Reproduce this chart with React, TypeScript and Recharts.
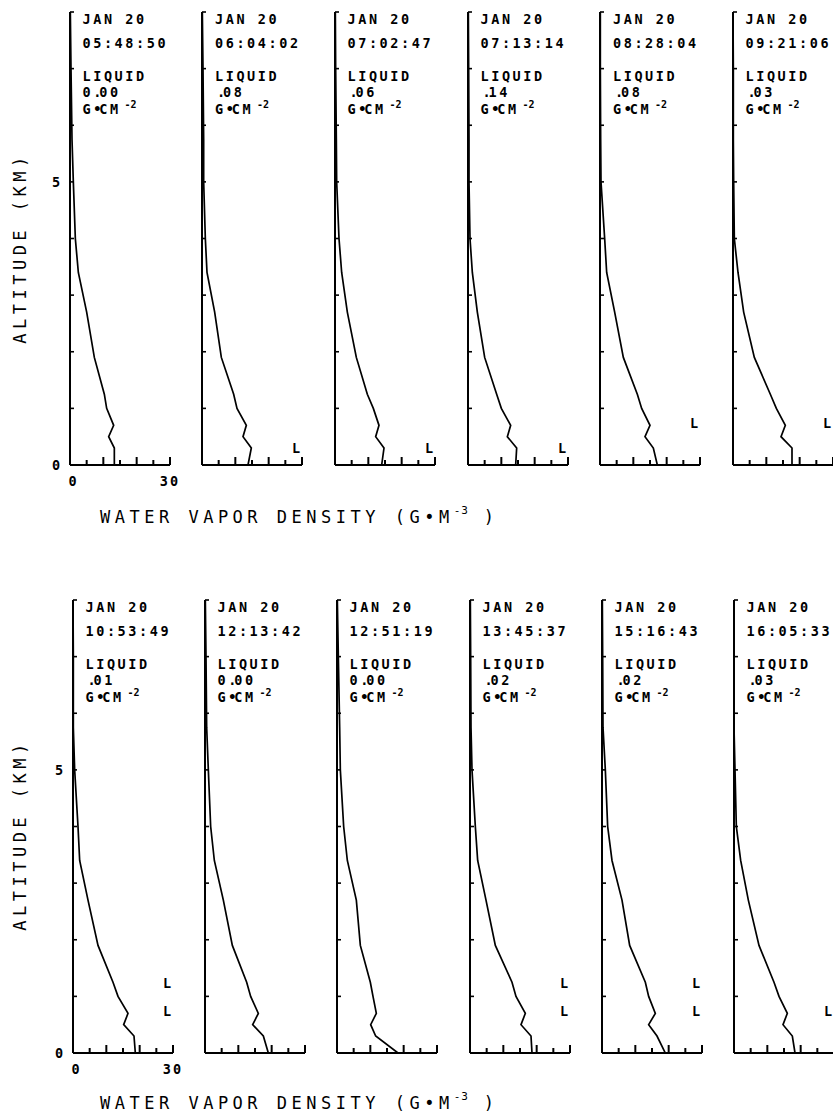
import React from "react";
import { ComposedChart, Line, Scatter, XAxis, YAxis } from "recharts";

// retrieval levels (km) shared by every sounding
const altitudeKm = [0, 0.3, 0.5, 0.7, 1.0, 1.25, 1.9, 2.7, 3.4, 4.0, 5.0, 5.75, 7.0, 8.0];

const obsDate = "JAN 20";
const obsTimes = [
  "05:48:50", "06:04:02", "07:02:47", "07:13:14", "08:28:04", "09:21:06",
  "10:53:49", "12:13:42", "12:51:19", "13:45:37", "15:16:43", "16:05:33",
];
const liquidPath = ["0.00", ".08", ".06", ".14", ".08", ".03", ".01", "0.00", "0.00", ".02", ".02", ".03"];

// water vapor density (g/m3) at each altitudeKm level
const wv0548 = [13.3, 13.3, 11.6, 13.1, 11.0, 10.3, 7.3, 5.0, 2.5, 1.6, 1.0, 0.6, 0.3, 0.1];
const wv0604 = [13.8, 14.8, 12.3, 13.3, 10.5, 9.5, 5.8, 3.8, 1.5, 1.0, 0.5, 0.5, 0.3, 0.1];
const wv0702 = [14.0, 14.7, 12.2, 13.2, 11.5, 9.7, 6.4, 3.7, 2.0, 1.2, 0.5, 0.4, 0.2, 0.1];
const wv0713 = [14.3, 14.6, 11.8, 12.8, 10.0, 8.6, 5.0, 2.8, 1.3, 0.6, 0.3, 0.3, 0.2, 0.1];
const wv0828 = [17.2, 16.0, 13.5, 15.0, 12.5, 11.2, 7.0, 4.4, 2.0, 1.4, 0.3, 0.2, 0.1, 0.1];
const wv0921 = [17.7, 17.7, 14.4, 15.7, 13.0, 11.2, 6.4, 3.2, 1.5, 0.4, 0.2, 0.1, 0.1, 0.0];
const wv1053 = [18.7, 18.3, 15.2, 16.5, 13.5, 12.0, 7.5, 4.5, 2.0, 1.5, 0.5, 0.1, 0.1, 0.0];
const wv1213 = [19.0, 17.5, 14.3, 16.0, 13.7, 12.5, 8.2, 5.5, 2.8, 1.7, 1.0, 0.5, 0.3, 0.1];
const wv1251 = [18.3, 11.6, 10.1, 11.8, 10.8, 10.0, 7.0, 5.8, 3.1, 2.0, 1.0, 0.8, 0.4, 0.1];
const wv1345 = [18.6, 18.3, 15.3, 16.6, 13.8, 12.6, 7.6, 4.8, 2.3, 1.6, 0.6, 0.3, 0.2, 0.1];
const wv1516 = [19.0, 16.5, 14.0, 16.0, 14.0, 13.0, 8.3, 6.0, 3.0, 1.7, 1.0, 0.3, 0.2, 0.1];
const wv1605 = [18.3, 17.5, 14.7, 16.0, 13.5, 12.0, 7.5, 4.3, 2.0, 0.7, 0.3, 0.0, 0.0, 0.0];

const profiles = [wv0548, wv0604, wv0702, wv0713, wv0828, wv0921, wv1053, wv1213, wv1251, wv1345, wv1516, wv1605];

// altitudes (km) flagged with "L" (liquid layer)
const liquidLayers = [[], [0.3], [0.3], [0.3], [0.74], [0.74], [1.24, 0.74], [], [], [1.24, 0.74], [1.24, 0.74], [0.74]];
const layerColumn = 28.2;

const xTicks = [0, 5, 10, 15, 20, 25, 30];
const yTicks = [0, 1, 2, 3, 4, 5, 6, 7, 8];

// layout
const rowTop = [12, 600];
const colLeft = [
  [69.5, 202, 334.5, 467.5, 600, 732.5],
  [72.5, 204.5, 336.5, 469.5, 601.5, 733.5],
];
const PW = 100;
const PH = 453;
const PAD = { top: 8, right: 18, bottom: 26, left: 24 };
// axes take 1px so they still render
const M = { top: PAD.top, right: PAD.right, bottom: PAD.bottom - 1, left: PAD.left - 1 };
const FONT = "'DejaVu Sans Mono', monospace";
const CELL = 10.7;

function charRuns(s: string, x0: number) {
  let x = x0 + (s.startsWith(".") ? 2 : 0);
  return Array.from(s).map((ch, i) => {
    const t = (
      <tspan key={i} x={x}>
        {ch}
      </tspan>
    );
    x += ch === "." || ch === "•" ? 6 : CELL;
    return t;
  });
}

function Panel({ idx, left, top, first }: { idx: number; left: number; top: number; first: boolean }) {
  const rows = altitudeKm.map((alt, i) => ({ alt, v: profiles[idx][i] }));
  const marks = liquidLayers[idx].map((alt) => ({ alt, v: layerColumn }));

  const yTick = (props: any) => {
    const { x, y, payload } = props;
    const v = payload.value;
    return (
      <g>
        <line x1={x} x2={x + 4} y1={y} y2={y} stroke="#000" strokeWidth={1.6} />
        {first && (v === 0 || v === 5) && (
          <text x={x - 14} y={y + 4.9} textAnchor="middle" fontFamily={FONT} fontWeight="bold" fontSize={13.5} fill="#000">
            {v}
          </text>
        )}
      </g>
    );
  };

  const xTick = (props: any) => {
    const { x, y, payload } = props;
    const v = payload.value;
    const tall = v % 10 === 0;
    return (
      <g>
        <line x1={x} x2={x} y1={y} y2={y - (tall ? 8 : 5)} stroke="#000" strokeWidth={2} />
        {first && (v === 0 || v === 30) && (
          <text
            x={x + (v === 0 ? 3.5 : 0)}
            y={y + 21}
            textAnchor="middle"
            fontFamily={FONT}
            fontWeight="bold"
            fontSize={13.5}
            style={{ letterSpacing: 2 }}
            fill="#000"
          >
            {v}
          </text>
        )}
      </g>
    );
  };

  return (
    <div style={{ position: "absolute", left: left - PAD.left, top: top - PAD.top }}>
      <ComposedChart width={PW + PAD.left + PAD.right} height={PH + PAD.top + PAD.bottom} data={rows} margin={M}>
        <XAxis
          type="number"
          dataKey="v"
          domain={[0, 30]}
          allowDataOverflow
          ticks={xTicks}
          interval={0}
          height={1}
          tickSize={0}
          tickMargin={0}
          tickLine={false}
          axisLine={{ stroke: "#000", strokeWidth: 2 }}
          tick={xTick}
        />
        <YAxis
          type="number"
          dataKey="alt"
          domain={[0, 8]}
          allowDataOverflow
          ticks={yTicks}
          interval={0}
          width={1}
          tickSize={0}
          tickMargin={0}
          tickLine={false}
          axisLine={{ stroke: "#000", strokeWidth: 2 }}
          tick={yTick}
        />
        <Line
          type="linear"
          dataKey="alt"
          stroke="#000"
          strokeWidth={1.7}
          dot={false}
          activeDot={false}
          isAnimationActive={false}
        />
        {marks.length > 0 && (
          <Scatter
            data={marks}
            isAnimationActive={false}
            shape={(p: any) => (
              <text
                x={p.cx}
                y={p.cy + 4.9}
                textAnchor="middle"
                fontFamily={FONT}
                fontWeight="bold"
                fontSize={13.5}
                fill="#000"
              >
                L
              </text>
            )}
          />
        )}
      </ComposedChart>
    </div>
  );
}

function Annotations() {
  const items: React.ReactNode[] = [];
  rowTop.forEach((top, r) => {
    colLeft[r].forEach((left, c) => {
      const idx = r * 6 + c;
      const x0 = left + 13;
      const base = (off: number) => top + off + 4.9;
      items.push(
        <g key={`a${idx}`} fontFamily={FONT} fontWeight="bold" fontSize={13.5} fill="#000">
          <text x={x0} y={base(7)} style={{ letterSpacing: 2.57 }}>
            {obsDate}
          </text>
          <text x={x0} y={base(31.5)} style={{ letterSpacing: 2.57 }}>
            {obsTimes[idx]}
          </text>
          <text x={x0} y={base(64)} style={{ letterSpacing: 2.57 }}>
            LIQUID
          </text>
          <text y={base(80.5)}>{charRuns(liquidPath[idx], x0)}</text>
          <text y={base(97)}>{charRuns("G•CM", x0)}</text>
          <text x={x0 + 42} y={base(97) - 5.5} fontSize={10}>
            -2
          </text>
        </g>
      );
    });
  });

  const titles = [
    { wx: 100, wy: 523, ay: 248 },
    { wx: 100, wy: 1109, ay: 835 },
  ];

  return (
    <svg width={833} height={1113} style={{ position: "absolute", left: 0, top: 0, pointerEvents: "none" }}>
      {items}
      {titles.map((t, i) => (
        <g key={`t${i}`} fontFamily={FONT} fontSize={17} fill="#000">
          <text x={t.wx} y={t.wy} style={{ letterSpacing: 4.5 }}>
            WATER VAPOR DENSITY (G•M
            <tspan fontSize={11} dy={-9} style={{ letterSpacing: 1 }}>
              -3
            </tspan>
            <tspan dy={9}> )</tspan>
          </text>
          <text
            transform={`translate(26.2, ${t.ay}) rotate(-90)`}
            textAnchor="middle"
            style={{ letterSpacing: 4.5 }}
          >
            ALTITUDE (KM)
          </text>
        </g>
      ))}
    </svg>
  );
}

export default function App() {
  return (
    <div
      style={{
        position: "absolute",
        left: 0,
        top: 0,
        width: 833,
        height: 1113,
        background: "#fff",
        overflow: "hidden",
      }}
    >
      {rowTop.map((top, r) =>
        colLeft[r].map((left, c) => (
          <Panel key={`${r}-${c}`} idx={r * 6 + c} left={left} top={top} first={c === 0} />
        ))
      )}
      <Annotations />
    </div>
  );
}
